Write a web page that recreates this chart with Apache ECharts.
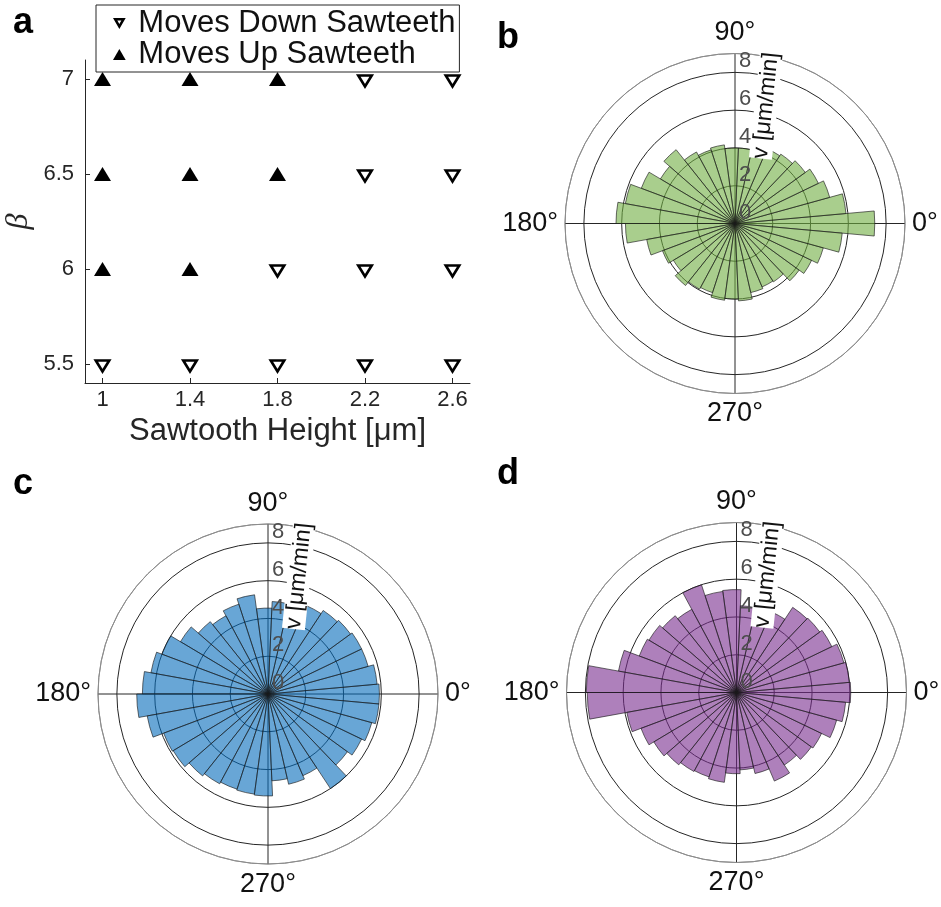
<!DOCTYPE html>
<html>
<head>
<meta charset="utf-8">
<script src="https://cdn.jsdelivr.net/npm/echarts@6/dist/echarts.min.js"></script>
<style>
  html, body { margin: 0; padding: 0; background: #fff; }
  #chart { width: 941px; height: 907px; }
</style>
</head>
<body>
<div id="chart"></div>
<script>
// ---- Panel a: swimming direction over sawtooth height and beta ----
const sawtoothTicks = [1, 1.4, 1.8, 2.2, 2.6];
const betaTicks = [5.5, 6, 6.5, 7];
const movesDown = [
  [2.2, 7], [2.6, 7],
  [2.2, 6.5], [2.6, 6.5],
  [1.8, 6], [2.2, 6], [2.6, 6],
  [1, 5.5], [1.4, 5.5], [1.8, 5.5], [2.2, 5.5], [2.6, 5.5]
];
const movesUp = [
  [1, 7], [1.4, 7], [1.8, 7],
  [1, 6.5], [1.4, 6.5], [1.8, 6.5],
  [1, 6], [1.4, 6]
];

// ---- Panels b-d: speed rose histograms (35 angular bins, degrees CCW from east) ----
const binCenters = [
  0, 10.29, 20.57, 30.86, 41.14, 51.43, 61.71, 72.0, 82.29, 92.57,
  102.86, 113.14, 123.43, 133.71, 144.0, 154.29, 164.57, 174.86, 185.14, 195.43,
  205.71, 216.0, 226.29, 236.57, 246.86, 257.14, 267.43, 277.71, 288.0, 298.29,
  308.57, 318.86, 329.14, 339.43, 349.71
];
const speedB = [
  7.4, 5.9, 5.2, 4.9, 4.6, 4.4, 4.3, 4.2, 4.0, 4.0,
  4.2, 4.1, 4.3, 5.0, 4.6, 5.3, 5.9, 6.3, 5.8, 4.75,
  4.1, 3.8, 4.2, 3.95, 3.85, 4.1, 4.0, 4.1, 3.75, 3.65,
  3.7, 4.2, 4.5, 4.85, 5.7
];
const speedC = [
  5.9, 5.8, 5.5, 5.5, 5.4, 5.3, 5.1, 4.8, 4.9, 4.55,
  5.3, 5.0, 4.7, 4.9, 5.4, 6.0, 6.3, 6.65, 6.95, 6.5,
  5.9, 5.85, 5.55, 5.4, 5.3, 5.35, 5.4, 4.6, 4.9, 4.7,
  6.0, 5.2, 5.5, 5.7, 5.9
];
const speedD = [
  6.05, 6.0, 5.9, 5.6, 5.45, 5.4, 4.65, 4.7, 4.6, 5.45,
  5.4, 6.0, 5.0, 5.2, 5.4, 5.5, 6.35, 7.95, 7.9, 5.9,
  5.4, 5.1, 4.9, 4.75, 4.7, 4.8, 4.3, 4.1, 4.4, 5.1,
  4.6, 4.9, 5.0, 5.5, 5.8
];
const radialMax = 9;        // outer frame circle of each rose
const radialStep = 2;       // rings at 2, 4, 6, 8
const radialLabelMax = 8;
const speedAxisName = 'v [\u03bcm/min]';

const FONT = "'Liberation Sans', Arial, Helvetica, sans-serif";
const INK = '#262626';

const roses = [
  { letter: 'b', center: [735, 223.5], values: speedB, fill: 'rgba(112,173,65,0.6)' },
  { letter: 'c', center: [268, 694], values: speedC, fill: 'rgba(3,107,187,0.6)' },
  { letter: 'd', center: [736.5, 692.5], values: speedD, fill: 'rgba(120,43,142,0.6)' }
];
const R = 170;

const polar = [], angleAxis = [], radiusAxis = [], series = [], graphic = [];

roses.forEach(p => {
  // grid: frame circle, rings, cardinal spokes and angle labels
  const g = polar.length;
  polar.push({ center: p.center, radius: R });
  angleAxis.push({
    polarIndex: g, type: 'value', min: 0, max: 360, interval: 90,
    startAngle: 90, clockwise: false,
    axisLine: { lineStyle: { color: '#8c8c8c', width: 1 } },
    axisTick: { show: false },
    splitLine: { show: true, lineStyle: { color: INK, width: 1 } },
    axisLabel: {
      margin: 7, fontSize: 27, color: '#111', fontFamily: FONT,
      formatter: v => (v >= 360 ? '' : ((v + 90) % 360) + '\u00b0')
    }
  });
  radiusAxis.push({
    polarIndex: g, type: 'value', min: 0, max: radialMax, interval: radialStep,
    axisLine: { show: false }, axisTick: { show: false }, axisLabel: { show: false },
    splitLine: { show: true, lineStyle: { color: [INK, INK, INK, INK, INK, '#8c8c8c'], width: 1 } }
  });

  // bars
  const b = polar.length;
  polar.push({ center: p.center, radius: R });
  angleAxis.push({
    polarIndex: b, type: 'category', data: binCenters,
    startAngle: -180 / binCenters.length, clockwise: false,
    axisLine: { show: false }, axisTick: { show: false },
    axisLabel: { show: false }, splitLine: { show: false }
  });
  radiusAxis.push({
    polarIndex: b, type: 'value', min: 0, max: radialMax,
    axisLine: { show: false }, axisTick: { show: false },
    axisLabel: { show: false }, splitLine: { show: false }
  });
  series.push({
    type: 'bar', coordinateSystem: 'polar', polarIndex: b,
    data: p.values, barCategoryGap: '0%', barGap: '0%',
    itemStyle: { color: p.fill, borderColor: 'rgba(25,25,25,0.8)', borderWidth: 0.8 },
    silent: true
  });

  // radial tick labels drawn over the bars
  const l = polar.length;
  polar.push({ center: p.center, radius: R });
  angleAxis.push({
    polarIndex: l, type: 'value', min: 0, max: 360, startAngle: 90, clockwise: false,
    axisLine: { show: false }, axisTick: { show: false },
    axisLabel: { show: false }, splitLine: { show: false }
  });
  radiusAxis.push({
    polarIndex: l, type: 'value', min: 0, max: radialMax, interval: radialStep, z: 5,
    axisLine: { show: false }, axisTick: { show: false }, splitLine: { show: false },
    axisLabel: {
      margin: -4, align: 'left', verticalAlign: 'bottom',
      fontSize: 22, color: '#4d4d4d', fontFamily: FONT,
      formatter: v => (v > radialLabelMax ? '' : String(v))
    }
  });

  // radial axis name along the 90 degree spoke
  graphic.push({
    type: 'text', z: 100,
    x: p.center[0] + 31, y: p.center[1] - 118,
    rotation: 84 * Math.PI / 180,
    style: {
      text: speedAxisName, font: '23px ' + FONT, fill: '#111',
      align: 'center', verticalAlign: 'middle', backgroundColor: '#fff'
    }
  });
});

// panel letters
[['a', 13, 23], ['b', 497, 38], ['c', 13, 484], ['d', 497, 474]].forEach(([t, x, y]) => {
  graphic.push({
    type: 'text', z: 100, x: x, y: y,
    style: { text: t, font: 'bold 36px ' + FONT, fill: '#000', align: 'left', verticalAlign: 'middle' }
  });
});

const DOWN_TRIANGLE = 'path://M0,0L10,0L5,8.66Z';
const UP_TRIANGLE = 'path://M5,0L10,8.66L0,8.66Z';
// hollow down-triangle outline as a filled ring shape (outer contour + reversed inner contour)
const DOWN_TRIANGLE_OUTLINE = 'path://M0,0L12,0L6,10.39ZM4.1,2.3L6,5.6L7.9,2.3Z';

series.push({
  name: 'Moves Down Sawteeth', type: 'scatter', xAxisIndex: 0, yAxisIndex: 0,
  data: movesDown,
  symbol: DOWN_TRIANGLE, symbolSize: [13.5, 11], symbolOffset: [0, 2],
  itemStyle: { color: '#fff', borderColor: '#000', borderWidth: 2.6, opacity: 1 }
});
series.push({
  name: 'Moves Up Sawteeth', type: 'scatter', xAxisIndex: 0, yAxisIndex: 0,
  data: movesUp,
  symbol: UP_TRIANGLE, symbolSize: [17, 14],
  itemStyle: { color: '#000', opacity: 1 }
});

const option = {
  animation: false,
  backgroundColor: '#fff',
  textStyle: { fontFamily: FONT },
  grid: { left: 85, top: 60, width: 385, height: 323, containLabel: false },
  xAxis: {
    type: 'value', min: 0.92, max: 2.68,
    axisLine: { lineStyle: { color: INK, width: 1 } },
    axisTick: { inside: true, length: 5, customValues: sawtoothTicks, lineStyle: { color: INK } },
    axisLabel: { customValues: sawtoothTicks, fontSize: 22, color: INK, margin: 6, fontFamily: FONT },
    splitLine: { show: false },
    name: 'Sawtooth Height [\u03bcm]', nameLocation: 'middle', nameGap: 33,
    nameTextStyle: { fontSize: 31, color: INK, fontFamily: FONT }
  },
  yAxis: {
    type: 'value', min: 5.4, max: 7.1,
    axisLine: { show: true, lineStyle: { color: INK, width: 1 } },
    axisTick: { show: true, inside: true, length: 5, customValues: betaTicks, lineStyle: { color: INK } },
    axisLabel: { customValues: betaTicks, fontSize: 22, color: INK, margin: 11, fontFamily: FONT },
    splitLine: { show: false },
    name: '\u03b2', nameLocation: 'middle', nameGap: 50, nameRotate: 90,
    nameTextStyle: { fontSize: 32, color: INK, fontStyle: 'italic', fontFamily: "'Liberation Serif', serif" }
  },
  legend: {
    data: [
      { name: 'Moves Down Sawteeth', icon: DOWN_TRIANGLE_OUTLINE,
        itemStyle: { color: '#000', borderWidth: 0 } },
      { name: 'Moves Up Sawteeth', icon: UP_TRIANGLE,
        itemStyle: { color: '#000', borderWidth: 0 } }
    ],
    orient: 'vertical', left: 96, top: 5,
    padding: [3, 4, 2, 17], itemGap: 0,
    itemWidth: 28, itemHeight: 11,
    borderColor: INK, borderWidth: 1,
    textStyle: { fontSize: 31, lineHeight: 29, color: '#111', fontFamily: FONT }
  },
  polar, angleAxis, radiusAxis, series, graphic
};

const chart = echarts.init(document.getElementById('chart'), null, { renderer: 'canvas' });
chart.setOption(option);
</script>
</body>
</html>
